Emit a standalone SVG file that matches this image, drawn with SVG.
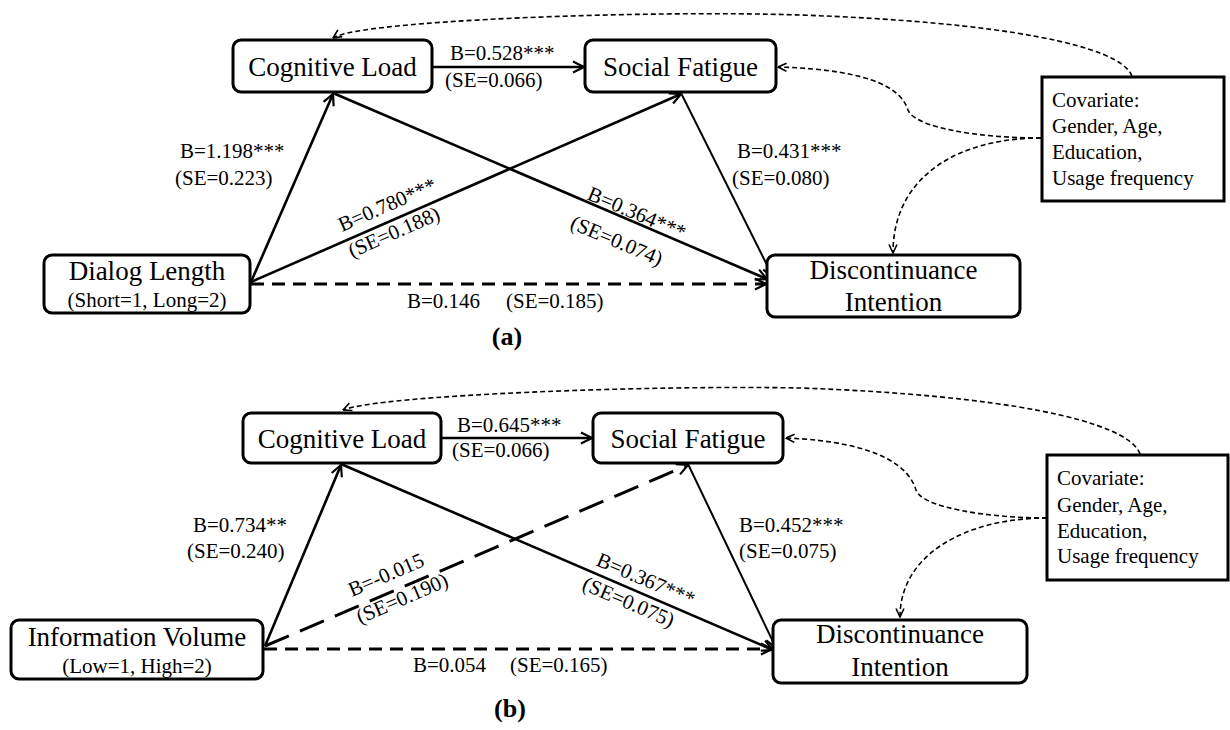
<svg xmlns="http://www.w3.org/2000/svg" width="1230" height="730" viewBox="0 0 1230 730">
<defs>
<style>
.node{fill:#fff;stroke:#000;stroke-width:3}
.nt{font-family:"Liberation Serif","Times New Roman",serif;font-size:27px;fill:#000;text-anchor:middle}
.st{font-family:"Liberation Serif","Times New Roman",serif;font-size:21px;fill:#000;text-anchor:middle}
.lb{font-family:"Liberation Serif","Times New Roman",serif;font-size:21px;fill:#000}
.cv{font-family:"Liberation Serif","Times New Roman",serif;font-size:21px;fill:#000}
.pl{font-family:"Liberation Serif","Times New Roman",serif;font-size:26px;font-weight:bold;fill:#000;text-anchor:middle}
.e{fill:none;stroke:#000;stroke-width:2.6;marker-end:url(#arr)}
.e2{fill:none;stroke:#000;stroke-width:2;marker-end:url(#arr)}
.ed{fill:none;stroke:#000;stroke-width:3;stroke-dasharray:13 8;marker-end:url(#arr)}
.el{fill:none;stroke:#000;stroke-width:3;stroke-dasharray:26 12;marker-end:url(#arr)}
.ec{fill:none;stroke:#000;stroke-width:1.6;stroke-dasharray:5 3;marker-end:url(#arrs)}
</style>
<marker id="arr" viewBox="0 0 14 14" refX="13" refY="7" markerWidth="14" markerHeight="14" markerUnits="userSpaceOnUse" orient="auto">
<path d="M2,1.5 L13,7 L2,12.5" fill="none" stroke="#000" stroke-width="2.2" stroke-dasharray="none"/>
</marker>
<marker id="arrs" viewBox="0 0 10 10" refX="9.5" refY="5" markerWidth="10" markerHeight="10" markerUnits="userSpaceOnUse" orient="auto">
<path d="M1,1 L9.5,5 L1,9" fill="none" stroke="#000" stroke-width="1.6" stroke-dasharray="none"/>
</marker>
</defs>
<rect width="1230" height="730" fill="#fff"/>

<g id="connectors">
<!-- panel a -->
<path class="e" d="M251,282 L333,94"/>
<path class="e" d="M251,282 L681,94"/>
<path class="e" d="M333,93 L767,279"/>
<path class="e2" d="M681,93 L773,277"/>
<path class="ed" d="M251,284 L766,284"/>
<path class="e" d="M432,67 L584,67"/>
<path class="ec" d="M1132,76 C1120,45 1000,22 800,15 C650,10 360,20 333,38"/>
<path class="ec" d="M1041,138 C980,138 915,128 908,110 C902,92 880,70 778,67"/>
<path class="ec" d="M1041,138 C960,138 893,175 893,253"/>
<!-- panel b -->
<path class="e" d="M265,646 L341,465"/>
<path class="el" d="M265,646 L688,465"/>
<path class="e" d="M341,464 L773,650"/>
<path class="e2" d="M688,464 L776,648"/>
<path class="ed" d="M264,649 L772,649"/>
<path class="e" d="M441,438 L592,438"/>
<path class="ec" d="M1140,454 C1128,420 1000,395 800,388 C650,385 380,395 343,410"/>
<path class="ec" d="M1047,518 C990,518 922,508 916,490 C910,470 885,442 786,438"/>
<path class="ec" d="M1047,518 C965,518 900,555 900,617"/>
</g>

<g id="labels">
<text class="lb" x="180" y="158">B=1.198***</text>
<text class="lb" x="175" y="185">(SE=0.223)</text>
<text class="lb" x="450" y="60">B=0.528***</text>
<text class="lb" x="445" y="87">(SE=0.066)</text>
<text class="lb" x="737" y="158">B=0.431***</text>
<text class="lb" x="732" y="185">(SE=0.080)</text>
<text class="lb" x="407" y="308">B=0.146</text>
<text class="lb" x="506" y="308">(SE=0.185)</text>
<text class="lb" x="342" y="232" transform="rotate(-23.6 342 232)">B=0.780***</text>
<text class="lb" x="352" y="258" transform="rotate(-23.6 352 258)">(SE=0.188)</text>
<text class="lb" x="586" y="199" transform="rotate(23 586 199)">B=0.364***</text>
<text class="lb" x="569" y="228" transform="rotate(23 569 228)">(SE=0.074)</text>

<text class="lb" x="193" y="532">B=0.734**</text>
<text class="lb" x="187" y="558">(SE=0.240)</text>
<text class="lb" x="457" y="432">B=0.645***</text>
<text class="lb" x="452" y="457">(SE=0.066)</text>
<text class="lb" x="739" y="532">B=0.452***</text>
<text class="lb" x="739" y="558">(SE=0.075)</text>
<text class="lb" x="413" y="672">B=0.054</text>
<text class="lb" x="510" y="672">(SE=0.165)</text>
<text class="lb" x="352" y="597" transform="rotate(-23.2 352 597)">B=-0.015</text>
<text class="lb" x="360" y="624" transform="rotate(-23.2 360 624)">(SE=0.190)</text>
<text class="lb" x="595" y="565" transform="rotate(23.3 595 565)">B=0.367***</text>
<text class="lb" x="581" y="589" transform="rotate(23.3 581 589)">(SE=0.075)</text>

<text class="pl" x="507" y="345">(a)</text>
<text class="pl" x="510" y="717">(b)</text>
</g>

<g id="a-cognitive-load">
<rect class="node" x="233" y="40" width="199" height="52" rx="8"/>
<text class="nt" x="332.5" y="76">Cognitive Load</text>
</g>
<g id="a-social-fatigue">
<rect class="node" x="585" y="40" width="191" height="52" rx="8"/>
<text class="nt" x="680.5" y="76">Social Fatigue</text>
</g>
<g id="a-dialog-length">
<rect class="node" x="44" y="255" width="206" height="58" rx="8"/>
<text class="nt" x="147" y="280">Dialog Length</text>
<text class="st" x="147" y="307">(Short=1, Long=2)</text>
</g>
<g id="a-discontinuance">
<rect class="node" x="767" y="255" width="253" height="62" rx="8"/>
<text class="nt" x="893.5" y="279">Discontinuance</text>
<text class="nt" x="893.5" y="311">Intention</text>
</g>
<g id="a-covariate">
<rect x="1042" y="77" width="182" height="124" fill="#fff" stroke="#000" stroke-width="3"/>
<text class="cv" x="1052" y="107">Covariate:</text>
<text class="cv" x="1052" y="133">Gender, Age,</text>
<text class="cv" x="1052" y="159">Education,</text>
<text class="cv" x="1052" y="185">Usage frequency</text>
</g>

<g id="b-cognitive-load">
<rect class="node" x="243" y="413" width="198" height="50" rx="8"/>
<text class="nt" x="342" y="448">Cognitive Load</text>
</g>
<g id="b-social-fatigue">
<rect class="node" x="593" y="413" width="190" height="50" rx="8"/>
<text class="nt" x="688" y="448">Social Fatigue</text>
</g>
<g id="b-information-volume">
<rect class="node" x="11" y="620" width="252" height="59" rx="8"/>
<text class="nt" x="137" y="646">Information Volume</text>
<text class="st" x="137" y="673">(Low=1, High=2)</text>
</g>
<g id="b-discontinuance">
<rect class="node" x="773" y="620" width="254" height="63" rx="8"/>
<text class="nt" x="900" y="643">Discontinuance</text>
<text class="nt" x="900" y="676">Intention</text>
</g>
<g id="b-covariate">
<rect x="1047" y="455" width="181" height="125" fill="#fff" stroke="#000" stroke-width="3"/>
<text class="cv" x="1057" y="485">Covariate:</text>
<text class="cv" x="1057" y="512">Gender, Age,</text>
<text class="cv" x="1057" y="538">Education,</text>
<text class="cv" x="1057" y="563">Usage frequency</text>
</g>
</svg>
